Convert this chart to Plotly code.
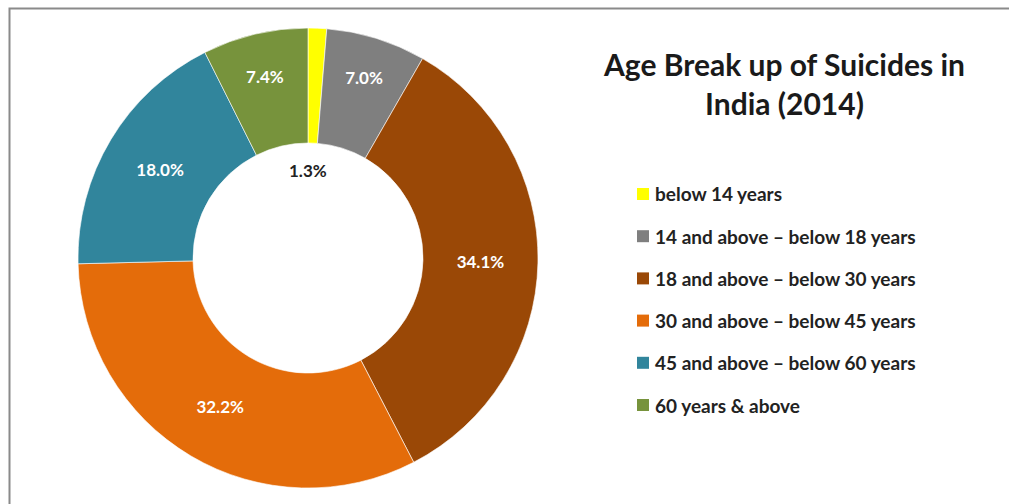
import plotly.graph_objects as go

labels = ["below 14 years", "14 and above \u2013 below 18 years", "18 and above \u2013 below 30 years",
          "30 and above \u2013 below 45 years", "45 and above \u2013 below 60 years", "60 years & above"]
values = [1.3, 7.0, 34.1, 32.2, 18.0, 7.4]
colors = ["#FFFF00", "#7F7F7F", "#9A4806", "#E46C0A", "#31859C", "#77933C"]
title_text = "Age Break up of Suicides in<br>India (2014)"

W, H = 1009, 504
cx, cy, R = 308, 258, 230
FONT = "Lato"

text_pos = ["none"] + ["inside"] * (len(values) - 1)

fig = go.Figure(go.Pie(
    labels=labels, values=values, sort=False, direction="clockwise", rotation=0,
    hole=0.5,
    marker=dict(colors=colors, line=dict(color="rgba(255,255,255,0.6)", width=1)),
    texttemplate="%{value:.1f}%", textposition=text_pos,
    insidetextorientation="horizontal",
    textfont=dict(family=FONT, size=17, color="white", weight="bold"),
    domain=dict(x=[(cx - R) / W, (cx + R) / W], y=[1 - (cy + R) / H, 1 - (cy - R) / H]),
    showlegend=False, hoverinfo="label+percent",
))

annotations = [
    dict(text=f"<b>{values[0]:.1f}%</b>", x=308 / W, y=1 - 170 / H, xref="paper", yref="paper",
         xanchor="center", yanchor="middle",
         showarrow=False, font=dict(family=FONT, size=17, color="#222222")),
    dict(text=f"<b>{title_text}</b>", x=784 / W, y=1 - 84 / H, xref="paper", yref="paper",
         xanchor="center", yanchor="middle",
         showarrow=False, align="center", font=dict(family=FONT, size=30, color="#1a1a1a")),
]
shapes = [
    dict(type="rect", xref="paper", yref="paper", x0=9.5 / W, x1=1.05, y0=-0.05, y1=1 - 8.5 / H,
         line=dict(color="#8a8a8a", width=2), fillcolor="rgba(0,0,0,0)"),
]

leg_x, leg_y0, leg_dy, sq = 643, 194, 42.2, 12
for i, (lab, col) in enumerate(zip(labels, colors)):
    y = leg_y0 + i * leg_dy
    shapes.append(dict(type="rect", xref="paper", yref="paper",
                       x0=(leg_x - sq / 2) / W, x1=(leg_x + sq / 2) / W,
                       y0=1 - (y + sq / 2) / H, y1=1 - (y - sq / 2) / H,
                       fillcolor=col, line=dict(width=0)))
    annotations.append(dict(text=f"<b>{lab}</b>", x=(leg_x + 10) / W, y=1 - y / H,
                            xref="paper", yref="paper", xanchor="left", yanchor="middle",
                            showarrow=False, font=dict(family=FONT, size=19, color="#222222")))

fig.update_layout(
    width=W, height=H, margin=dict(l=0, r=0, t=0, b=0),
    paper_bgcolor="white", plot_bgcolor="white",
    annotations=annotations, shapes=shapes,
)

fig.write_html("out.html")
